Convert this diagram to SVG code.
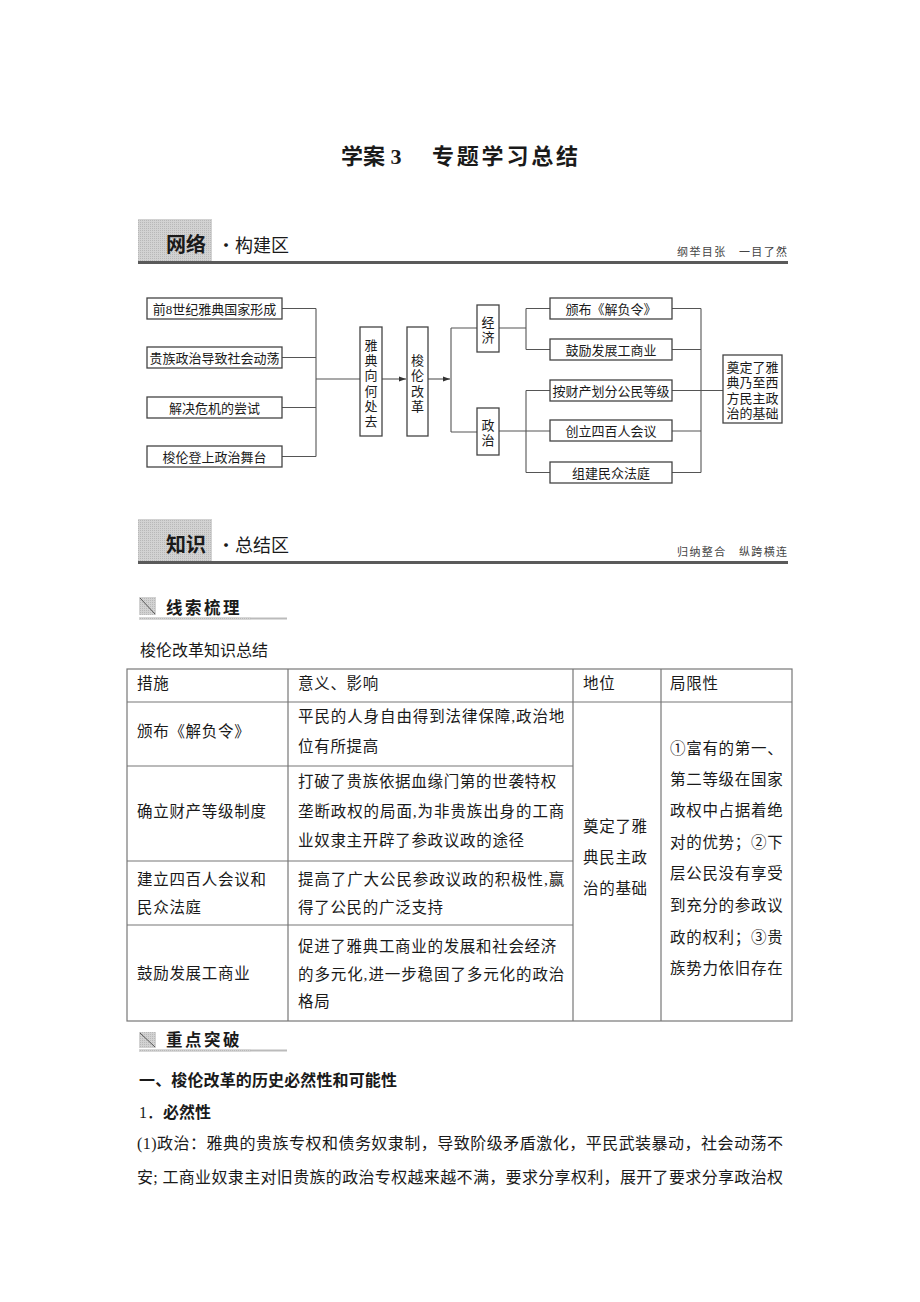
<svg xmlns="http://www.w3.org/2000/svg" width="920" height="1302" viewBox="0 0 920 1302">
<defs>
<style>
text{font-family:"Liberation Serif","Noto Sans CJK SC",serif;fill:#1a1a1a}
.t13{font-size:13px}
.tb{font-size:15.5px;letter-spacing:0.7px}
.bx{fill:#fff;stroke:#444;stroke-width:1.3}
.ln{fill:none;stroke:#555;stroke-width:1.1}
.tl{fill:none;stroke:#777;stroke-width:1.2}
.hb{fill:#c9c9c9}
.hl{fill:#5a5a5a}
.sm{font-size:11px;fill:#444;font-family:"Noto Sans CJK SC",sans-serif}
.hx{font-family:"Noto Sans CJK SC",sans-serif}
</style>
<marker id="ar" markerWidth="8" markerHeight="6" refX="7" refY="3" orient="auto" markerUnits="userSpaceOnUse">
<path d="M0,0.5 L7,3 L0,5.5 Z" fill="#333"/>
</marker>
<pattern id="dots" width="2" height="2" patternUnits="userSpaceOnUse">
<rect width="2" height="2" fill="#d2d2d2"/><rect width="1" height="1" fill="#b8b8b8"/>
</pattern>
</defs>
<rect width="920" height="1302" fill="#fff"/>

<g id="title">
<text x="341" y="164" font-size="22" font-weight="bold">学案 3</text>
<text x="432" y="164" font-size="22" font-weight="bold" textLength="146" lengthAdjust="spacing">专题学习总结</text>
</g>

<g id="header1">
<rect x="138" y="219" width="74" height="42" fill="url(#dots)"/>
<rect x="138" y="261" width="650" height="3" class="hl"/>
<text x="166" y="252" font-size="20" font-weight="bold" class="hx">网络</text>
<text x="217" y="252" font-size="18" class="hx">·构建区</text>
<text x="677" y="256" class="sm" textLength="110" lengthAdjust="spacing">纲举目张　一目了然</text>
</g>

<g id="connectors">
<path class="ln" d="M282,308.5H316M282,357.5H316M282,407.5H316M282,456.5H316M316,308.5V456.5M316,379H360"/>
<path class="ln" d="M382,379H406" marker-end="url(#ar)"/>
<path class="ln" d="M428,379H450" marker-end="url(#ar)"/>
<path class="ln" d="M451,328V432M451,328H477M451,432H477"/>
<path class="ln" d="M499,328H526M526,308.5V349.5M526,308.5H550M526,349.5H550"/>
<path class="ln" d="M499,431H550M526,390.5V472.5M526,390.5H550M526,472.5H550"/>
<path class="ln" d="M672,308.5H701M672,349.5H701M672,431H701M672,472.5H701M672,390.5H723M701,308.5V472.5"/>
</g>

<g id="n1"><rect class="bx" x="147" y="298" width="135" height="21"/><text class="t13" x="214.5" y="313.5" text-anchor="middle">前8世纪雅典国家形成</text></g>
<g id="n2"><rect class="bx" x="147" y="347" width="135" height="21"/><text class="t13" x="214.5" y="362.5" text-anchor="middle">贵族政治导致社会动荡</text></g>
<g id="n3"><rect class="bx" x="147" y="397" width="135" height="21"/><text class="t13" x="214.5" y="412.5" text-anchor="middle">解决危机的尝试</text></g>
<g id="n4"><rect class="bx" x="147" y="446" width="135" height="21"/><text class="t13" x="214.5" y="461.5" text-anchor="middle">梭伦登上政治舞台</text></g>

<g id="n5"><rect class="bx" x="360" y="327" width="22" height="109"/>
<text class="t13" x="371" text-anchor="middle"><tspan x="371" y="350">雅</tspan><tspan x="371" y="365.2">典</tspan><tspan x="371" y="380.4">向</tspan><tspan x="371" y="395.6">何</tspan><tspan x="371" y="410.8">处</tspan><tspan x="371" y="426">去</tspan></text></g>
<g id="n6"><rect class="bx" x="407" y="327" width="21" height="109"/>
<text class="t13" x="417.5" text-anchor="middle"><tspan x="417.5" y="365">梭</tspan><tspan x="417.5" y="380.3">伦</tspan><tspan x="417.5" y="395.6">改</tspan><tspan x="417.5" y="410.9">革</tspan></text></g>

<g id="n7"><rect class="bx" x="477" y="305" width="22" height="47"/>
<text class="t13" text-anchor="middle"><tspan x="488" y="327">经</tspan><tspan x="488" y="342">济</tspan></text></g>
<g id="n8"><rect class="bx" x="477" y="408" width="22" height="47"/>
<text class="t13" text-anchor="middle"><tspan x="488" y="430">政</tspan><tspan x="488" y="445">治</tspan></text></g>

<g id="n9"><rect class="bx" x="550" y="298" width="122" height="21"/><text class="t13" x="611" y="313.5" text-anchor="middle">颁布《解负令》</text></g>
<g id="n10"><rect class="bx" x="550" y="339" width="122" height="21"/><text class="t13" x="611" y="354.5" text-anchor="middle">鼓励发展工商业</text></g>
<g id="n11"><rect class="bx" x="550" y="380" width="122" height="21"/><text class="t13" x="611" y="395.5" text-anchor="middle">按财产划分公民等级</text></g>
<g id="n12"><rect class="bx" x="550" y="420" width="122" height="21"/><text class="t13" x="611" y="435.5" text-anchor="middle">创立四百人会议</text></g>
<g id="n13"><rect class="bx" x="550" y="462" width="122" height="21"/><text class="t13" x="611" y="477.5" text-anchor="middle">组建民众法庭</text></g>

<g id="n14"><rect class="bx" x="723" y="355" width="59" height="68"/>
<text class="t13" text-anchor="middle"><tspan x="752.5" y="372">奠定了雅</tspan><tspan x="752.5" y="387.3">典乃至西</tspan><tspan x="752.5" y="402.6">方民主政</tspan><tspan x="752.5" y="418">治的基础</tspan></text></g>

<g id="header2">
<rect x="138" y="519" width="74" height="42" fill="url(#dots)"/>
<rect x="138" y="561" width="650" height="3" class="hl"/>
<text x="166" y="552" font-size="20" font-weight="bold" class="hx">知识</text>
<text x="217" y="552" font-size="18" class="hx">·总结区</text>
<text x="677" y="556" class="sm" textLength="110" lengthAdjust="spacing">归纳整合　纵跨横连</text>
</g>

<g id="sec1">
<rect x="139" y="597" width="17" height="18" fill="url(#dots)"/>
<path d="M140,598L155,614" stroke="#555" stroke-width="1"/>
<text x="166" y="614" font-size="16.5" font-weight="bold" class="hx" letter-spacing="2.5">线索梳理</text>
<rect x="139" y="617.5" width="148" height="2" fill="#bbb"/>
<rect x="139" y="617.5" width="112" height="2" fill="url(#dots)"/>
<text x="140" y="656" font-size="16" class="hx">梭伦改革知识总结</text>
</g>

<g id="table">
<rect class="tl" x="127" y="669" width="665" height="352"/>
<path class="tl" d="M288,669V1021M573,669V1021M661,669V1021M127,702H792M127,766H573M127,861H573M127,925H573"/>
<g class="tb">
<text x="137" y="689">措施</text>
<text x="298" y="689">意义、影响</text>
<text x="583" y="689">地位</text>
<text x="670" y="689">局限性</text>

<text x="137" y="737">颁布《解负令》</text>
<text x="298" y="722" textLength="267" lengthAdjust="spacing">平民的人身自由得到法律保障,政治地</text>
<text x="298" y="752">位有所提高</text>

<text x="137" y="817">确立财产等级制度</text>
<text x="298" y="787" textLength="259" lengthAdjust="spacing">打破了贵族依据血缘门第的世袭特权</text>
<text x="298" y="817" textLength="267" lengthAdjust="spacing">垄断政权的局面,为非贵族出身的工商</text>
<text x="298" y="846">业奴隶主开辟了参政议政的途径</text>

<text x="137" y="885">建立四百人会议和</text>
<text x="137" y="913">民众法庭</text>
<text x="298" y="885" textLength="267" lengthAdjust="spacing">提高了广大公民参政议政的积极性,赢</text>
<text x="298" y="913">得了公民的广泛支持</text>

<text x="137" y="979">鼓励发展工商业</text>
<text x="298" y="952" textLength="259" lengthAdjust="spacing">促进了雅典工商业的发展和社会经济</text>
<text x="298" y="980" textLength="267" lengthAdjust="spacing">的多元化,进一步稳固了多元化的政治</text>
<text x="298" y="1007">格局</text>

<text x="583" y="832">奠定了雅</text>
<text x="583" y="863">典民主政</text>
<text x="583" y="894">治的基础</text>

<text x="670" y="754">①富有的第一、</text>
<text x="670" y="785">第二等级在国家</text>
<text x="670" y="816">政权中占据着绝</text>
<text x="670" y="848">对的优势；②下</text>
<text x="670" y="879">层公民没有享受</text>
<text x="670" y="911">到充分的参政议</text>
<text x="670" y="943">政的权利；③贵</text>
<text x="670" y="974">族势力依旧存在</text>
</g>
</g>

<g id="sec2">
<rect x="139" y="1032" width="17" height="16" fill="url(#dots)"/>
<path d="M140,1033L155,1047" stroke="#555" stroke-width="1"/>
<text x="166" y="1046" font-size="16.5" font-weight="bold" class="hx" letter-spacing="2.5">重点突破</text>
<rect x="139" y="1049.5" width="148" height="2" fill="#bbb"/>
<rect x="139" y="1049.5" width="112" height="2" fill="url(#dots)"/>
</g>

<g id="body">
<text x="139" y="1086" font-size="16" font-weight="bold" class="hx" textLength="258" lengthAdjust="spacing">一、梭伦改革的历史必然性和可能性</text>
<text x="139" y="1118" font-size="16">1．<tspan font-weight="bold" font-family="Noto Sans CJK SC, sans-serif">必然性</tspan></text>
<text x="137" y="1149" font-size="16" textLength="646" lengthAdjust="spacing">(1)政治：雅典的贵族专权和债务奴隶制，导致阶级矛盾激化，平民武装暴动，社会动荡不</text>
<text x="137" y="1183" font-size="16" textLength="646" lengthAdjust="spacing">安; 工商业奴隶主对旧贵族的政治专权越来越不满，要求分享权利，展开了要求分享政治权</text>
</g>
</svg>
